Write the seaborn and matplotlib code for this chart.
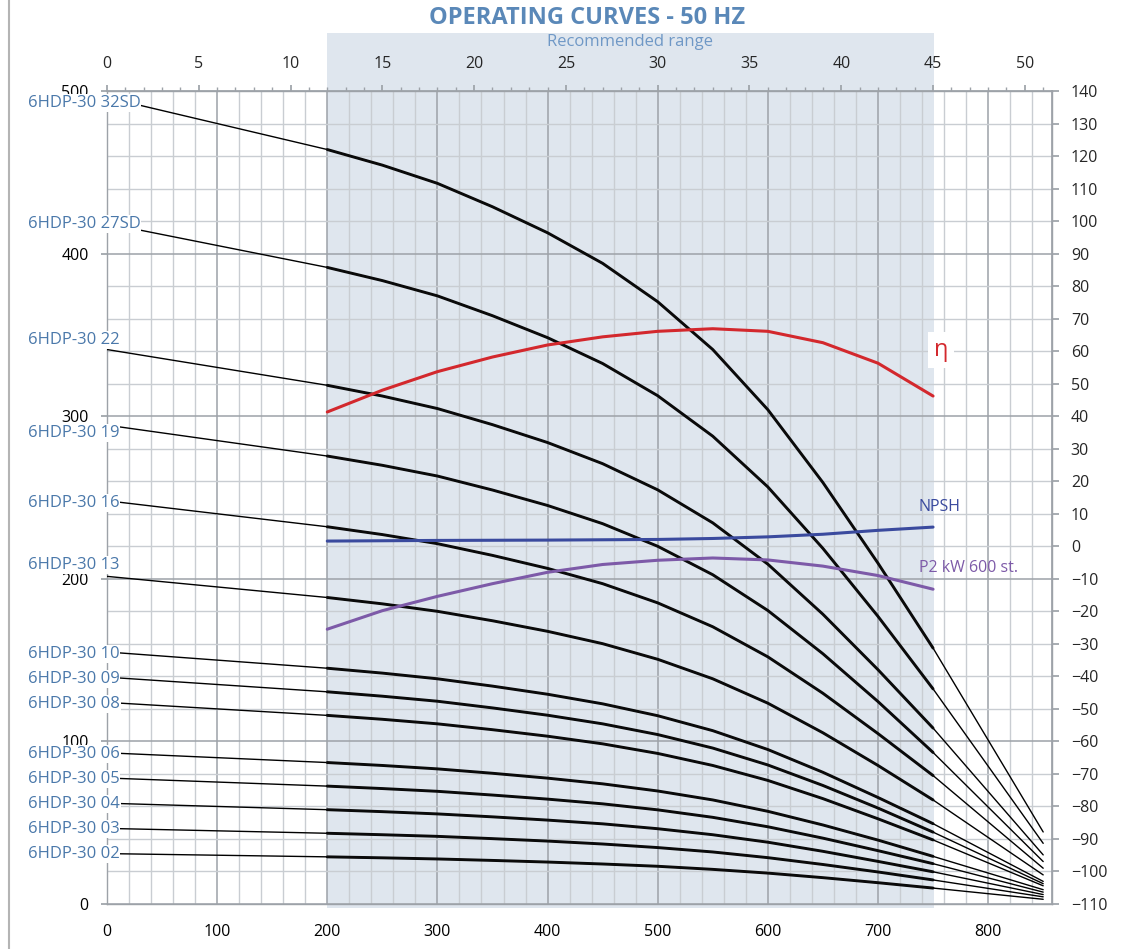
import numpy as np
import pandas as pd
import matplotlib
matplotlib.use("Agg")
import matplotlib.pyplot as plt
import matplotlib.transforms as mtransforms
from matplotlib.patches import Rectangle
from matplotlib.lines import Line2D
import seaborn as sns

# flow in l/min (bottom axis), head in m (left axis)
flow = [0, 200, 250, 300, 350, 400, 450, 500, 550, 600, 650, 700, 750, 850]

pump_names = ["6HDP-30 32SD", "6HDP-30 27SD", "6HDP-30 22", "6HDP-30 19",
              "6HDP-30 16", "6HDP-30 13", "6HDP-30 10", "6HDP-30 09",
              "6HDP-30 08", "6HDP-30 06", "6HDP-30 05", "6HDP-30 04",
              "6HDP-30 03", "6HDP-30 02"]

head_32sd = [496, 464, 454.4, 443.2, 428.8, 412.8, 394.0, 370.4, 341.0, 304, 259.2, 209.6, 157.4, 44.3]
head_27sd = [418.5, 391.5, 383.4, 374, 361.8, 348.3, 332.4, 312.6, 287.7, 256.5, 218.7, 176.9, 132.3, 37.3]
head_22 = [341, 319, 312.4, 304.7, 294.8, 283.8, 270.8, 254.7, 234.4, 209, 178.2, 144.1, 108.2, 30.2]
head_19 = [294.5, 275.5, 269.8, 263.2, 254.6, 245.1, 233.9, 220.0, 202.5, 180.5, 153.9, 124.5, 93.2, 26.1]
head_16 = [248, 232, 227.2, 221.6, 214.4, 206.4, 197.0, 185.2, 170.5, 152, 129.6, 104.8, 79, 22]
head_13 = [201.5, 188.5, 184.6, 180, 174.2, 167.7, 160.1, 150.5, 138.5, 123.5, 105.3, 85.2, 64, 17.9]
head_10 = [155, 145, 142, 138.5, 134, 129, 123.1, 115.8, 106.6, 95, 81, 65.5, 49.4, 13.9]
head_09 = [139.5, 130.5, 127.8, 124.7, 120.6, 116.1, 110.8, 104.2, 95.9, 85.5, 72.9, 59, 44.2, 12.5]
head_08 = [124, 116, 113.6, 110.8, 107.2, 103.2, 98.5, 92.6, 85.2, 76, 64.8, 52.4, 39.4, 11.2]
head_06 = [93, 87, 85.2, 83.1, 80.4, 77.4, 73.9, 69.5, 64.0, 57, 48.6, 39.3, 29.3, 8.8]
head_05 = [77.5, 72.5, 71, 69.3, 67, 64.5, 61.6, 57.9, 53.3, 47.5, 40.5, 32.8, 24.8, 7.3]
head_04 = [62, 58, 56.8, 55.4, 53.6, 51.6, 49.3, 46.3, 42.6, 38, 32.4, 26.2, 19.8, 5.8]
head_03 = [46.5, 43.5, 42.6, 41.6, 40.2, 38.7, 36.9, 34.7, 32.0, 28.5, 24.3, 19.7, 14.8, 4.4]
head_02 = [31, 29, 28.4, 27.7, 26.8, 25.8, 24.6, 23.2, 21.3, 19, 16.2, 13.1, 9.8, 2.9]

heads = [head_32sd, head_27sd, head_22, head_19, head_16, head_13, head_10,
         head_09, head_08, head_06, head_05, head_04, head_03, head_02]

# efficiency / power curves (right axis)
perf_flow = [200, 250, 300, 350, 400, 450, 500, 550, 600, 650, 700, 750]
efficiency = [41.3, 48.0, 53.7, 58.2, 61.9, 64.4, 66.1, 66.9, 66.1, 62.6, 56.3, 46.2]
p2_kw = [-25.5, -19.8, -15.4, -11.5, -8.0, -5.6, -4.3, -3.6, -4.2, -6.1, -9.0, -13.2]
npsh_flow = [200, 300, 400, 500, 550, 600, 650, 700, 750]
npsh = [1.6, 1.8, 1.9, 2.1, 2.4, 2.9, 3.7, 4.9, 5.9]

recommended = (200, 751)

# where the curve names sit on the left (head units)
label_pos = [492.6, 418.2, 346.9, 289.7, 246.6, 208.5, 153.8, 138.4, 123.0,
             92.3, 76.9, 61.5, 46.1, 30.8]

TITLE_BLUE = "#5a88b8"
LABEL_BLUE = "#4a78aa"
GRID_MINOR = "#c9cdd2"
GRID_MAJOR = "#9da2a8"
SHADE = "#dfe6ee"

sns.set_theme(style="white")
plt.rcParams["font.family"] = ["Open Sans", "DejaVu Sans"]

fig = plt.figure(figsize=(11.23, 9.49), dpi=100)
fig.patch.set_facecolor("white")
ax = fig.add_axes([107 / 1123, 45 / 949, 945 / 1123, 813 / 949])
ax.set_xlim(0, 858)
ax.set_ylim(0, 500)
ax.set_axisbelow(True)

# recommended range band, runs a bit above the plot
trans = mtransforms.blended_transform_factory(ax.transData, ax.transAxes)
ax.add_patch(Rectangle((recommended[0], -0.005), recommended[1] - recommended[0], 1.076,
                       transform=trans, facecolor=SHADE, edgecolor="none",
                       clip_on=False, zorder=0.1))

# grid
ax.set_xticks(np.arange(0, 801, 100))
ax.set_xticks(np.arange(0, 858, 20), minor=True)
ax.set_yticks(np.arange(0, 501, 100))
ax.set_yticks(np.arange(0, 501, 20), minor=True)
ax.grid(which="minor", color=GRID_MINOR, lw=1.0)
ax.grid(which="major", color=GRID_MAJOR, lw=1.1)
ax.tick_params(axis="x", which="major", length=3.5, color=GRID_MAJOR, labelsize=11.5, pad=11, labelcolor="black")
ax.tick_params(axis="y", which="major", length=4.2, color=GRID_MAJOR, labelsize=11.5, pad=9, labelcolor="black")
ax.tick_params(which="minor", length=0)
for s in ax.spines.values():
    s.set_color(GRID_MAJOR)
    s.set_linewidth(1.0)

# pump curves: thin full line, thick inside recommended range
rows = []
for name, h in zip(pump_names, heads):
    for q, v in zip(flow, h):
        rows.append({"pump": name, "flow": q, "head": v})
df = pd.DataFrame(rows)
sns.lineplot(data=df, x="flow", y="head", units="pump", estimator=None, sort=False,
             color="black", lw=1.0, ax=ax, legend=False, zorder=3)
inside = df[(df["flow"] >= recommended[0]) & (df["flow"] <= 750)]
sns.lineplot(data=inside, x="flow", y="head", units="pump", estimator=None, sort=False,
             color="#0a0a0a", lw=2.1, ax=ax, legend=False, zorder=3)
ax.set_xlabel("")
ax.set_ylabel("")

label_trans = mtransforms.blended_transform_factory(ax.transAxes, ax.transData)
for name, y in zip(pump_names, label_pos):
    ax.text(-0.0836, y, name, transform=label_trans, ha="left", va="center",
            fontsize=12, color=LABEL_BLUE, zorder=6, clip_on=False,
            bbox=dict(facecolor="white", edgecolor="none", pad=0.5))

# top axis in m3/h
secax = ax.secondary_xaxis("top", functions=(lambda q: q * 0.06, lambda m: m / 0.06))
secax.set_zorder(2)
secax.set_xticks(np.arange(0, 51, 5))
secax.set_xticks(np.arange(0, 52, 1), minor=True)
secax.tick_params(which="major", length=4.5, color=GRID_MAJOR, labelsize=11.5, pad=9)
secax.tick_params(which="minor", length=3, color=GRID_MAJOR)
secax.spines["top"].set_color(GRID_MAJOR)

# right axis: efficiency, NPSH, P2
ax2 = ax.twinx()
ax2.set_ylim(-110, 140)
ax2.set_yticks(np.arange(-110, 141, 10))
ax2.tick_params(axis="y", length=5, color=GRID_MAJOR, labelsize=11.5, pad=8.5)
for s in ax2.spines.values():
    s.set_visible(False)
ax2.spines["right"].set_visible(True)
ax2.spines["right"].set_color(GRID_MAJOR)

sns.lineplot(x=perf_flow, y=efficiency, ax=ax2, color="#d3282d", lw=2.2, zorder=4)
sns.lineplot(x=npsh_flow, y=npsh, ax=ax2, color="#3a4a9e", lw=2.2, zorder=4)
sns.lineplot(x=perf_flow, y=p2_kw, ax=ax2, color="#7d5aa8", lw=2.2, zorder=4)
ax2.set_xlim(0, 858)
ax2.set_ylabel("")

ax2.text(757, 60.4, "η", ha="center", va="center", fontsize=17, color="#d3282d",
         zorder=6, bbox=dict(facecolor="white", edgecolor="none", pad=4))
ax2.text(737, 12.1, "NPSH", ha="left", va="center", fontsize=11.5, color="#3a4a9e", zorder=6)
ax2.text(737, -6.7, "P2 kW 600 st.", ha="left", va="center", fontsize=11.5, color="#7d5aa8", zorder=6)

# titles
fig.text(587 / 1123, 1 - 18 / 949, "OPERATING CURVES - 50 HZ", ha="center", va="center",
         fontsize=17, fontweight="bold", color=TITLE_BLUE)
fig.text(630 / 1123, 1 - 42 / 949, "Recommended range", ha="center", va="center",
         fontsize=12, color="#6f98c6")

# page border on the left
fig.add_artist(Line2D([9 / 1123, 9 / 1123], [0, 1], color="#b4b4b4", lw=1.5))

fig.savefig("out.png", dpi=100, facecolor="white")
